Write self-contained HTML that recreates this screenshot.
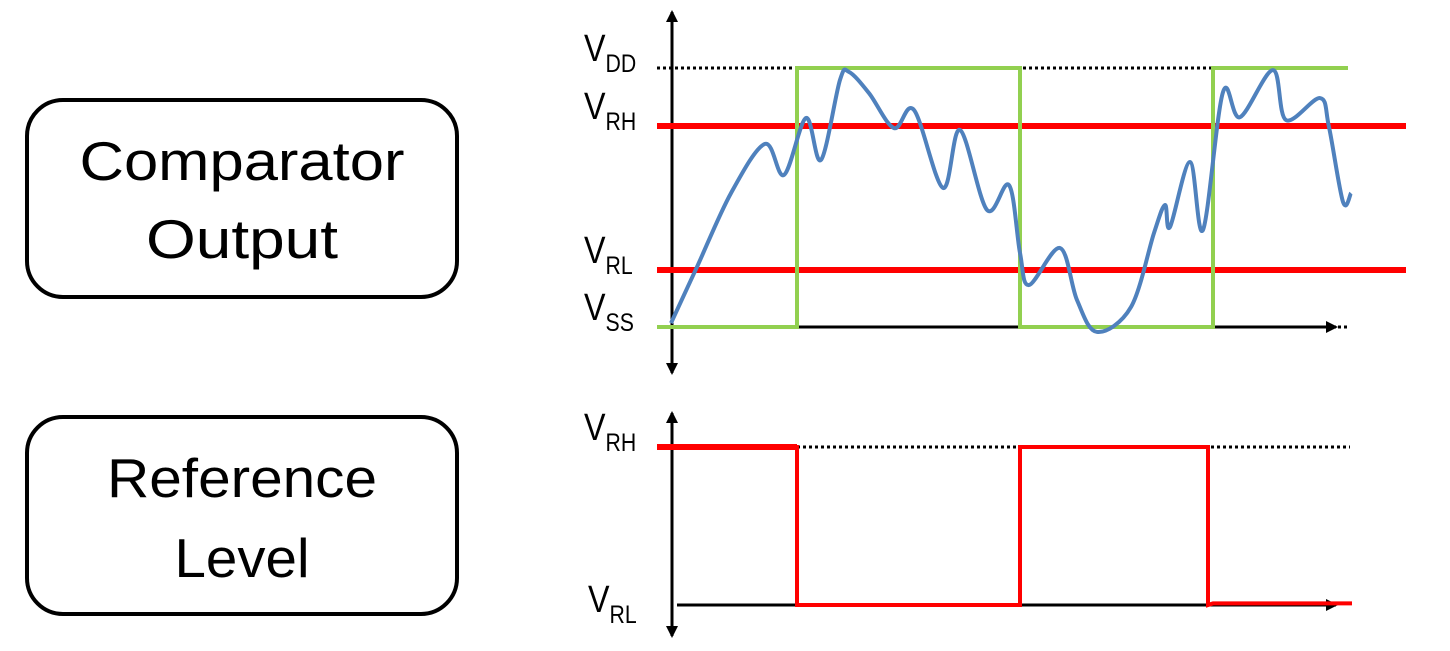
<!DOCTYPE html>
<html><head><meta charset="utf-8"><style>
html,body{margin:0;padding:0;background:#fff;}
svg{display:block;font-family:"Liberation Sans",sans-serif;}
</style></head><body>
<svg id="c" width="1450" height="651" viewBox="0 0 1450 651">
<defs>
<marker id="ah" markerWidth="12" markerHeight="12" refX="10" refY="6" orient="auto" markerUnits="userSpaceOnUse" viewBox="0 0 12 12"><path d="M0,0 L12,6 L0,12 Z" fill="#000"/></marker>
</defs>
<g>
<rect x="27" y="100" width="430" height="197" rx="36" fill="none" stroke="#000" stroke-width="4"/>
<text x="242" y="180" font-size="55" text-anchor="middle" textLength="325" lengthAdjust="spacingAndGlyphs">Comparator</text>
<text x="242" y="258" font-size="55" text-anchor="middle" textLength="192" lengthAdjust="spacingAndGlyphs">Output</text>
</g>
<g>
<rect x="27" y="417" width="430" height="197" rx="36" fill="none" stroke="#000" stroke-width="4"/>
<text x="242" y="497" font-size="55" text-anchor="middle" textLength="270" lengthAdjust="spacingAndGlyphs">Reference</text>
<text x="242" y="577" font-size="55" text-anchor="middle" textLength="135" lengthAdjust="spacingAndGlyphs">Level</text>
</g>
<g id="topchart"></g>
<g id="botchart"></g>
</svg>
<script>
// Top chart data (value: 0 = VSS, 1 = VDD; time in arbitrary units)
const levelNames = ["VDD","VRH","VRL","VSS"];
const levelValues = [1.0, 0.776, 0.22, 0.0];
const greenTimes = [-14, 126, 126, 349, 349, 542, 542, 677];
const greenValues = [0, 0, 1, 1, 0, 0, 1, 1];
const signalTimes = [0,26,60,94,113,135,150,169,178,198,223,243,272,289,316,338,349,358,389,406,426,460,483,494,499,519,532,552,569,602,615,649,658,672,680];
const signalValues = [0.015,0.232,0.517,0.707,0.587,0.807,0.645,0.954,0.985,0.903,0.768,0.838,0.537,0.761,0.452,0.548,0.286,0.162,0.305,0.104,-0.019,0.077,0.363,0.471,0.386,0.637,0.375,0.907,0.81,0.992,0.799,0.884,0.772,0.483,0.517];
// Bottom chart data (1 = VRH, 0 = VRL)
const refTimes = [-14, 126, 126, 349, 349, 537, 537, 542, 681];
const refValues = [1, 1, 0, 0, 1, 1, 0, 0.01, 0.01];

const NS="http://www.w3.org/2000/svg";
function mk(tag,attrs,parent){const e=document.createElementNS(NS,tag);for(const k in attrs)e.setAttribute(k,attrs[k]);parent.appendChild(e);return e;}
const xT=t=>671+t;
const yT=v=>327-v*259;
const yB=v=>605-v*158;
const topG=document.getElementById('topchart'), botG=document.getElementById('botchart');

let a=mk('line',{x1:672,y1:372,x2:672,y2:12,stroke:'#000','stroke-width':3,'marker-end':'url(#ah)'},topG);


a=mk('line',{x1:672,y1:16,x2:672,y2:373,stroke:'#000','stroke-width':3,'marker-end':'url(#ah)'},topG);


a=mk('line',{x1:xT(126),y1:yT(0),x2:1336,y2:yT(0),stroke:'#000','stroke-width':3,'marker-end':'url(#ah)'},topG);


a=mk('line',{x1:1338,y1:yT(0),x2:1350,y2:yT(0),stroke:'#000','stroke-width':3,'stroke-dasharray':'3 3'},topG);


a=mk('line',{x1:657,y1:yT(1),x2:xT(542),y2:yT(1),stroke:'#000','stroke-width':3,'stroke-dasharray':'3 3'},topG);


[1,2].forEach(i=>{const l=mk('line',{x1:657,y1:yT(levelValues[i]),x2:1406,y2:yT(levelValues[i]),stroke:'#ff0000','stroke-width':6},topG);

});
let g=mk('polyline',{points:greenTimes.map((t,i)=>xT(t)+','+yT(greenValues[i])).join(' '),fill:'none',stroke:'#92d050','stroke-width':4},topG);


const P=signalTimes.map((t,i)=>[xT(t),yT(signalValues[i])]);
let d='M'+P[0][0]+','+P[0][1];
for(let i=0;i<P.length-1;i++){const p0=P[Math.max(0,i-1)],p1=P[i],p2=P[i+1],p3=P[Math.min(P.length-1,i+2)];
d+=' C'+(p1[0]+(p2[0]-p0[0])/6)+','+(p1[1]+(p2[1]-p0[1])/6)+' '+(p2[0]-(p3[0]-p1[0])/6)+','+(p2[1]-(p3[1]-p1[1])/6)+' '+p2[0]+','+p2[1];}
let s=mk('path',{d:d,fill:'none',stroke:'#4f81bd','stroke-width':4,'stroke-linejoin':'round'},topG);


function label(parent,x,y,sub,name){const t=mk('text',{x:0,y:0,'font-size':38,transform:'translate('+x+','+y+') scale(0.85,1)'},parent);


const v=mk('tspan',{},t);v.textContent='V';
const u=mk('tspan',{dy:11,'font-size':25},t);u.textContent=sub;}
const subs=["DD","RH","RL","SS"];
levelValues.forEach((v,i)=>label(topG,584,yT(v)-7,subs[i],levelNames[i].toLowerCase()+'-label'));

a=mk('line',{x1:672,y1:633,x2:672,y2:413,stroke:'#000','stroke-width':3,'marker-end':'url(#ah)'},botG);


a=mk('line',{x1:672,y1:419,x2:672,y2:636,stroke:'#000','stroke-width':3,'marker-end':'url(#ah)'},botG);


a=mk('line',{x1:677,y1:yB(0),x2:1336,y2:yB(0),stroke:'#000','stroke-width':3,'marker-end':'url(#ah)'},botG);


a=mk('line',{x1:xT(126),y1:yB(1),x2:1350,y2:yB(1),stroke:'#000','stroke-width':3,'stroke-dasharray':'3 3'},botG);


let r=mk('polyline',{points:refTimes.map((t,i)=>xT(t)+','+yB(refValues[i])).join(' '),fill:'none',stroke:'#ff0000','stroke-width':4},botG);


let r2=mk('line',{x1:657,y1:yB(1),x2:xT(126),y2:yB(1),stroke:'#ff0000','stroke-width':6},botG);


label(botG,584,yB(1)-7,'RH','bottom-vrh-label');
label(botG,588,yB(0)+7,'RL','bottom-vrl-label');
</script>
</body></html>
